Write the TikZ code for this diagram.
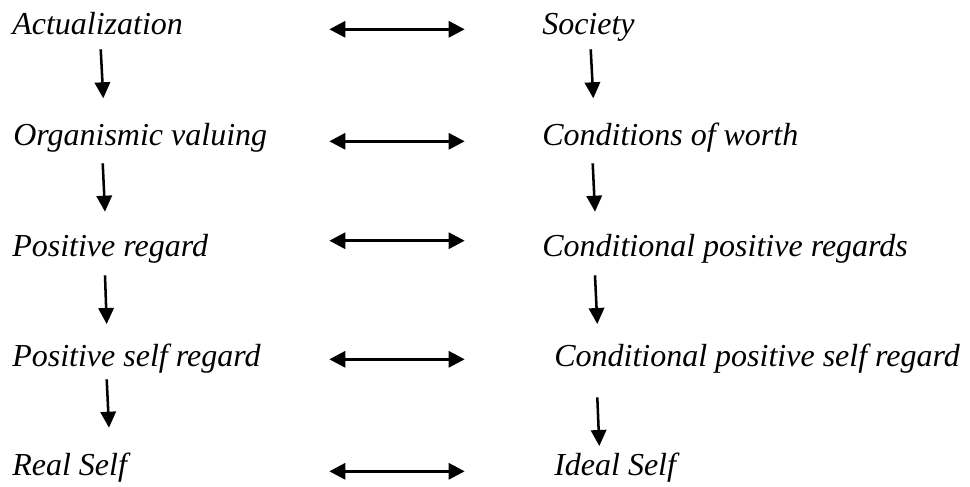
\documentclass[tikz,border=0pt]{standalone}
\usepackage{fontspec}
\setmainfont{Liberation Serif}
\usetikzlibrary{arrows.meta}
\begin{document}
\begin{tikzpicture}[x=0.75pt,y=-0.75pt,
  lbl/.style={anchor=base west, inner sep=0pt, font=\fontsize{24}{28}\selectfont\itshape},
  varrow/.style={line width=1.9pt, -{Triangle[length=12pt,width=11.5pt]}},
  harrow/.style={line width=2.2pt, {Triangle[length=12pt,width=12pt]}-{Triangle[length=12pt,width=12pt]}}]
\useasboundingbox (0,0) rectangle (970,486);
% left column
\node[lbl] (l1) at (12,34) {Actualization};
\node[lbl] (l2) at (13,145.5) {Organismic valuing};
\node[lbl] (l3) at (12,256) {Positive regard};
\node[lbl] (l4) at (12,366) {Positive self regard};
\node[lbl] (l5) at (12,475) {Real Self};
% right column
\node[lbl] (r1) at (542,34) {Society};
\node[lbl] (r2) at (542,145.5) {Conditions of worth};
\node[lbl] (r3) at (542,256) {Conditional positive regards};
\node[lbl] (r4) at (554,366) {Conditional positive self regard};
\node[lbl] (r5) at (554,475) {Ideal Self};
% vertical arrow ends
\coordinate (lv1s) at (100.7,49.3);  \coordinate (lv1e) at (103.3,98.3);
\coordinate (lv2s) at (102.7,163.3); \coordinate (lv2e) at (105,211.7);
\coordinate (lv3s) at (105,275.3);   \coordinate (lv3e) at (106.7,324);
\coordinate (lv4s) at (106.7,379.3); \coordinate (lv4e) at (109,427.7);
\coordinate (rv1s) at (590.7,49.3);  \coordinate (rv1e) at (593.3,98.3);
\coordinate (rv2s) at (592.7,163.3); \coordinate (rv2e) at (595,211.7);
\coordinate (rv3s) at (595,275.3);   \coordinate (rv3e) at (597.3,324);
\coordinate (rv4s) at (597.3,397.3); \coordinate (rv4e) at (599.3,446);
\draw[varrow] (lv1s) -- (lv1e);
\draw[varrow] (lv2s) -- (lv2e);
\draw[varrow] (lv3s) -- (lv3e);
\draw[varrow] (lv4s) -- (lv4e);
\draw[varrow] (rv1s) -- (rv1e);
\draw[varrow] (rv2s) -- (rv2e);
\draw[varrow] (rv3s) -- (rv3e);
\draw[varrow] (rv4s) -- (rv4e);
% horizontal double arrows
\coordinate (h1a) at (329.3,29.3);  \coordinate (h1b) at (464.7,29.3);
\coordinate (h2a) at (329.3,141.3); \coordinate (h2b) at (464.7,141.3);
\coordinate (h3a) at (329.3,240.7); \coordinate (h3b) at (464.7,240.7);
\coordinate (h4a) at (329.3,359.3); \coordinate (h4b) at (464.7,359.3);
\coordinate (h5a) at (329.3,471.3); \coordinate (h5b) at (464.7,471.3);
\draw[harrow] (h1a) -- (h1b);
\draw[harrow] (h2a) -- (h2b);
\draw[harrow] (h3a) -- (h3b);
\draw[harrow] (h4a) -- (h4b);
\draw[harrow] (h5a) -- (h5b);
\end{tikzpicture}
\end{document}
